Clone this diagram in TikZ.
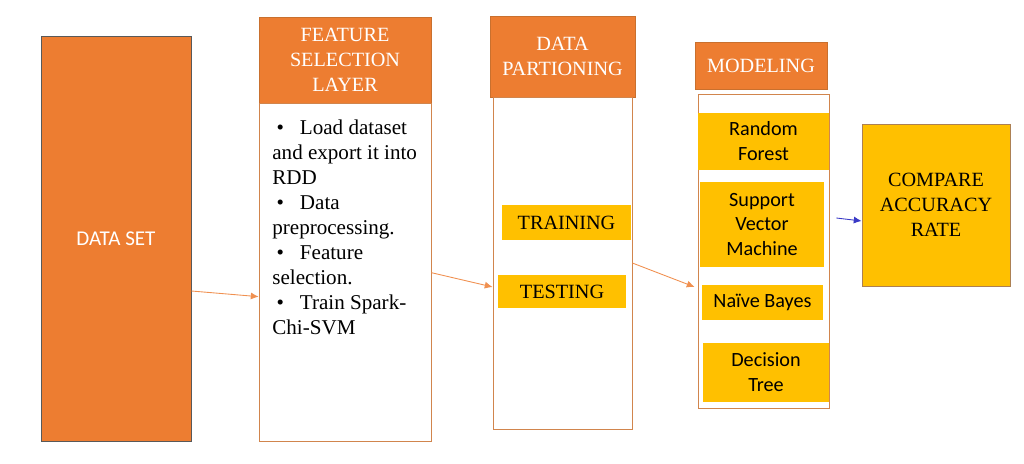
\documentclass[tikz,border=0pt]{standalone}
\usepackage{fontspec}
\setmainfont{Liberation Serif}
\newfontfamily\calibrifont{Carlito}
\usepackage{xcolor}
\usetikzlibrary{arrows.meta,positioning}
\definecolor{hdrorange}{HTML}{ED7D31}
\definecolor{edgeorange}{HTML}{C9702E}
\definecolor{boxyellow}{HTML}{FFC000}
\tikzset{
  base/.style={align=center, inner sep=0pt, text=black},
  header/.style={base, rectangle, fill=hdrorange, draw=edgeorange, text=white, font=\fontsize{11.5}{14.4}\selectfont},
  panel/.style={rectangle, draw=edgeorange!85, fill=white, inner sep=0pt},
  model/.style={base, rectangle, fill=boxyellow, font=\calibrifont\fontsize{11.5}{14.2}\selectfont},
  split/.style={base, rectangle, fill=boxyellow, font=\fontsize{11.5}{14}\selectfont},
  line/.style={-{Latex[length=4.5pt,width=4pt]}, draw=hdrorange!85, line width=0.5pt},
  blueline/.style={line, draw=blue!55!gray}
}

\begin{document}
\begin{tikzpicture}[x=0.02cm, y=-0.02cm]
  \useasboundingbox (0,0) rectangle (1024,463);

  % Nodes
  \node[base, fill=hdrorange, draw=black!65, text=white, font=\calibrifont\fontsize{12}{14}\selectfont,
        minimum width=3cm, minimum height=8.1cm] (dataset) at (116,238.5) {DATA SET};

  \node[header, minimum width=3.44cm, minimum height=1.72cm] (fhead) at (345,60) {FEATURE\\SELECTION\\LAYER};
  \node[panel, below=0pt of fhead, minimum width=3.44cm, minimum height=6.76cm] (fbody) {};
  \node[base, anchor=north west, align=left, font=\fontsize{12}{14.2}\selectfont] (steps) at (272,120)
    {\hspace*{2.5pt}\textbullet\hspace{9pt}Load dataset\\and export it into\\RDD\\
     \hspace*{2.5pt}\textbullet\hspace{9pt}Data\\preprocessing.\\
     \hspace*{2.5pt}\textbullet\hspace{9pt}Feature\\selection.\\
     \hspace*{2.5pt}\textbullet\hspace{9pt}Train Spark-\\Chi-SVM};

  \node[header, minimum width=2.9cm, minimum height=1.62cm] (phead) at (562.5,56.5) {DATA\\PARTIONING};
  \node[panel, minimum width=2.78cm, minimum height=6.64cm] (pbody) at (562.5,263) {};
  \node[split, minimum width=2.58cm, minimum height=0.7cm] (train) at (566.5,222.5) {TRAINING};
  \node[split, minimum width=2.56cm, minimum height=0.66cm] (test) at (562,291.5) {TESTING};

  \node[header, minimum width=2.64cm, minimum height=0.94cm] (mhead) at (761,65.5) {MODELING};
  \node[panel, minimum width=2.62cm, minimum height=6.28cm] (mbody) at (763.5,251) {};
  \node[model, minimum width=2.62cm, minimum height=1.14cm] (rf) at (763.5,141.5) {Random\\Forest};
  \node[model, minimum width=2.48cm, minimum height=1.7cm] (svm) at (762,224.5) {Support\\Vector\\Machine};
  \node[model, minimum width=2.42cm, minimum height=0.7cm] (nb) at (762.5,302.5) {Naïve Bayes};
  \node[model, minimum width=2.52cm, minimum height=1.18cm] (dt) at (766,372.5) {Decision\\Tree};

  \node[split, draw=brown!70!gray, minimum width=2.96cm, minimum height=3.24cm,
        font=\fontsize{11.5}{14.4}\selectfont] (compare) at (936,205) {COMPARE\\ACCURACY\\RATE};

  % Edges
  \draw[line] ([yshift=-1.05cm]dataset.east) -- ([yshift=-0.48cm]fbody.west);
  \draw[line] (fbody.east) -- ([yshift=-0.48cm]pbody.west);
  \draw[line] (pbody.east) -- ([xshift=-0.06cm,yshift=-0.72cm]mbody.west);
  \draw[blueline] ([xshift=0.14cm,yshift=0.66cm]mbody.east) -- ([yshift=-0.32cm]compare.west);
\end{tikzpicture}
\end{document}
